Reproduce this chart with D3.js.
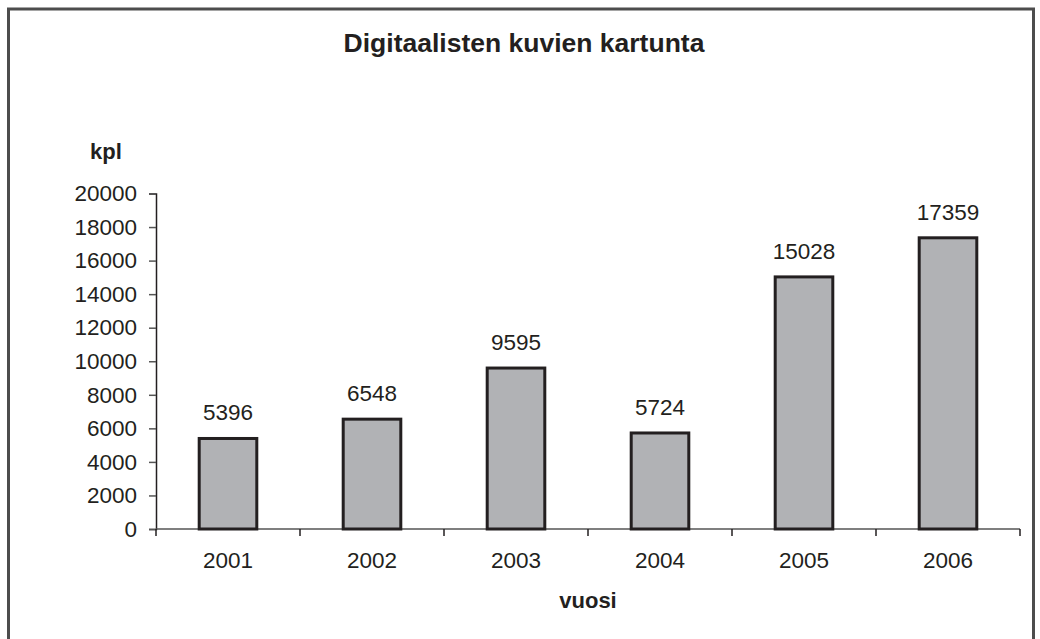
<!DOCTYPE html>
<html>
<head>
<meta charset="utf-8">
<script src="https://cdn.jsdelivr.net/npm/d3@7"></script>
<style>
    body { margin: 0; background: #fff; }
    text { font-family: "Liberation Sans", Arial, sans-serif; fill: #231f20; }
</style>
</head>
<body>
<div id="chart"></div>
<script>
const years = ["2001", "2002", "2003", "2004", "2005", "2006"]
const counts = [5396, 6548, 9595, 5724, 15028, 17359]
const yTicks = [0, 2000, 4000, 6000, 8000, 10000, 12000, 14000, 16000, 18000, 20000]

let width = 1040,
    height = 639

let svg = d3.select('#chart')
    .append('svg')
    .attr("width", width)
    .attr("height", height)

// outer frame (bottom edge runs off the picture)
svg.append("rect")
    .attr("x", 8.5).attr("y", 9)
    .attr("width", 1025).attr("height", 660)
    .attr("fill", "none")
    .attr("stroke", "#4d4d4d")
    .attr("stroke-width", 3)

let plotLeft = 156, plotRight = 1020, plotTop = 193.5, plotBottom = 529

let x = d3.scaleBand().domain(years).range([plotLeft, plotRight]).paddingInner(0.6).paddingOuter(0.3)
let y = d3.scaleLinear().domain([0, 20000]).range([plotBottom, plotTop])

// y axis
let yAxis = svg.append("g")
    .attr("transform", "translate(" + plotLeft + ",0)")
    .call(d3.axisLeft(y).tickValues(yTicks).tickSize(7).tickPadding(12).tickFormat(d3.format("d")))
yAxis.select(".domain").attr("stroke", "#231f20").attr("stroke-width", 1.5)
yAxis.selectAll(".tick line").attr("stroke", "#555").attr("stroke-width", 1.5)
yAxis.selectAll("text").attr("font-size", 22.5).attr("fill", "#231f20")
    .attr("font-family", '"Liberation Sans", Arial, sans-serif')

// x axis baseline + category separator ticks
svg.append("line")
    .attr("x1", plotLeft).attr("x2", plotRight)
    .attr("y1", plotBottom).attr("y2", plotBottom)
    .attr("stroke", "#555").attr("stroke-width", 1.5)
svg.selectAll(".xsep")
    .data(d3.range(years.length + 1))
    .enter().append("line")
    .attr("class", "xsep")
    .attr("x1", function (i) { return plotLeft + i * x.step() })
    .attr("x2", function (i) { return plotLeft + i * x.step() })
    .attr("y1", plotBottom).attr("y2", plotBottom + 7)
    .attr("stroke", "#231f20").attr("stroke-width", 1.5)

svg.selectAll(".xlabel")
    .data(years)
    .enter().append("text")
    .attr("class", "xlabel")
    .attr("x", function (d) { return x(d) + x.bandwidth() / 2 })
    .attr("y", 568)
    .attr("text-anchor", "middle")
    .attr("font-size", 22.5)
    .text(function (d) { return d })

// bars
let data = years.map(function (d, i) { return { year: d, value: counts[i] } })

svg.selectAll(".bar")
    .data(data)
    .enter().append("rect")
    .attr("class", "bar")
    .attr("x", function (d) { return x(d.year) })
    .attr("y", function (d) { return y(d.value) })
    .attr("width", x.bandwidth())
    .attr("height", function (d) { return plotBottom - y(d.value) })
    .attr("fill", "#b1b2b5")
    .attr("stroke", "#231f20")
    .attr("stroke-width", 3)

svg.selectAll(".val")
    .data(data)
    .enter().append("text")
    .attr("class", "val")
    .attr("x", function (d) { return x(d.year) + x.bandwidth() / 2 })
    .attr("y", function (d) { return y(d.value) - 18 })
    .attr("text-anchor", "middle")
    .attr("font-size", 22.5)
    .text(function (d) { return d.value })

// titles
svg.append("text")
    .attr("x", 524).attr("y", 52)
    .attr("text-anchor", "middle")
    .attr("font-size", 26.5)
    .attr("font-weight", "bold")
    .text("Digitaalisten kuvien kartunta")

svg.append("text")
    .attr("x", 90).attr("y", 159)
    .attr("font-size", 22)
    .attr("font-weight", "bold")
    .text("kpl")

svg.append("text")
    .attr("x", 588).attr("y", 608)
    .attr("text-anchor", "middle")
    .attr("font-size", 22)
    .attr("font-weight", "bold")
    .text("vuosi")
</script>
</body>
</html>
